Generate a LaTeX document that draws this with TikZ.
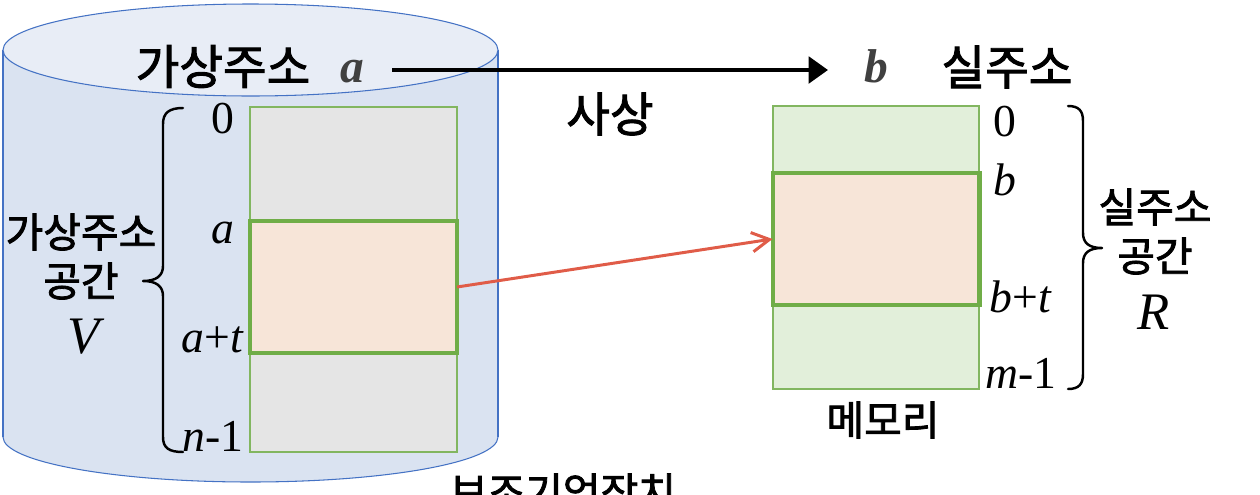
\documentclass[tikz,border=0pt]{standalone}
\usepackage{fontspec}
\setmainfont{Liberation Serif}
\newfontfamily\kr[FakeBold=2]{Noto Sans CJK KR}
\usetikzlibrary{arrows.meta}
\definecolor{cylbody}{HTML}{DAE3F1}
\definecolor{cyltop}{HTML}{E8EDF6}
\definecolor{cylline}{HTML}{4472C4}
\definecolor{memgray}{HTML}{E5E5E5}
\definecolor{memgreen}{HTML}{E2EFDA}
\definecolor{peach}{HTML}{F7E5D8}
\definecolor{gline}{HTML}{82B660}
\definecolor{gthick}{HTML}{70AD47}
\definecolor{redarrow}{HTML}{E05C48}
\definecolor{darkgray}{HTML}{404040}
\begin{document}
\begin{tikzpicture}[x=0.02cm,y=-0.02cm,
  krbig/.style={font=\kr\fontsize{27pt}{32pt}\selectfont, inner sep=0pt},
  krmid/.style={font=\kr\fontsize{23.3pt}{28pt}\selectfont, inner sep=0pt},
  mlabel/.style={font=\fontsize{26pt}{30pt}\selectfont, inner sep=0pt, anchor=base},
  biglet/.style={font=\fontsize{30pt}{34pt}\selectfont, inner sep=0pt, anchor=base},
  toplet/.style={font=\bfseries\itshape\fontsize{27pt}{31pt}\selectfont, text=darkgray, inner sep=0pt, anchor=base},
  membox/.style={draw=gline, line width=1.1pt, inner sep=0pt, outer sep=0pt},
  hlbox/.style={draw=gthick, fill=peach, line width=2.3pt, inner sep=0pt, outer sep=0pt, minimum width=4.14cm, minimum height=2.64cm},
  bracestyle/.style={line width=1.4pt, line cap=round, line join=round},
  blkarr/.style={line width=2.4pt, -{Triangle[length=11pt,width=15pt]}},
  redarr/.style={draw=redarrow, line width=1.7pt, -{Straight Barb[length=10pt,width=11pt]}}
]
\useasboundingbox (0,0) rectangle (1260,494);
\clip (0,0) rectangle (1260,494);

% cylinder (auxiliary storage)
\path[draw=cylline, fill=cylbody, line width=0.6pt]
  (3,50) -- (3,437) arc[start angle=180, end angle=0, x radius=247.5, y radius=45] -- (498,50);
\fill[cylbody] (3,50) rectangle (498,437);
\draw[cylline, line width=0.6pt] (3,50) -- (3,437);
\draw[cylline, line width=0.6pt] (498,50) -- (498,437);
\draw[cylline, fill=cyltop, line width=0.6pt] (250.5,50) ellipse[x radius=247.5, y radius=46];

% left memory (virtual space)
\node[membox, fill=memgray, minimum width=4.14cm, minimum height=6.9cm] (vmem) at (353.5,279.5) {};
\node[hlbox] (lhl) at (353.5,287) {};

% right memory (real space)
\node[membox, fill=memgreen, minimum width=4.12cm, minimum height=5.66cm] (rmem) at (876,247.5) {};
\node[hlbox] (rhl) at (876,239) {};

% top labels
\node[krbig] (vaddr) at (223,66.5) {가상주소};
\node[toplet] (atop) at (352,82) {a};
\node[toplet] (btop) at (876,82) {b};
\node[krbig] (raddr) at (1007,67) {실주소};
\node[krbig] (mapping) at (610,114) {사상};
\coordinate (mapstart) at (392,70);
\coordinate (mapend) at (828,70);
\draw[blkarr] (mapstart) -- (mapend);

% left address labels
\node[mlabel] (l0) at (223,133) {0};
\node[mlabel] (la) at (223,243) {\textit{a}};
\node[mlabel] (lat) at (213,352) {\textit{a}+\textit{t}};
\node[mlabel] (ln) at (213,451) {\textit{n}-1};

% left brace
\draw[bracestyle] (183,108) .. controls (169,108) and (163,113) .. (163,124)
  -- (163,266) .. controls (163,276) and (156,281) .. (143,281)
  .. controls (156,281) and (163,286) .. (163,296)
  -- (163,437) .. controls (163,448) and (169,452) .. (183,452);

\node[krmid] (vs1) at (81,232) {가상주소};
\node[krmid] (vs2) at (81,281) {공간};
\node[biglet] (vs3) at (86,353) {\textit{V}};

% right address labels
\node[mlabel] (r0) at (1005,136) {0};
\node[mlabel] (rb) at (1005,195) {\textit{b}};
\node[mlabel] (rbt) at (1021,312) {\textit{b}+\textit{t}};
\node[mlabel] (rm) at (1021,388) {\textit{m}-1};

% right brace
\draw[bracestyle] (1068,106) .. controls (1079,106) and (1083,111) .. (1083,121)
  -- (1083,233) .. controls (1083,243) and (1089,248) .. (1102,248)
  .. controls (1089,248) and (1083,253) .. (1083,263)
  -- (1083,374) .. controls (1083,384) and (1079,389) .. (1068,389);

\node[krmid] (rs1) at (1155,207) {실주소};
\node[krmid] (rs2) at (1155,256) {공간};
\node[biglet] (rs3) at (1154,329) {\textit{R}};

\node[krmid] (memlabel) at (883,420) {메모리};
\node[krmid] (auxlabel) at (563,492) {보조기억장치};

% mapping arrow
\draw[redarr] (lhl.east) -- (rhl.west);
\end{tikzpicture}
\end{document}
